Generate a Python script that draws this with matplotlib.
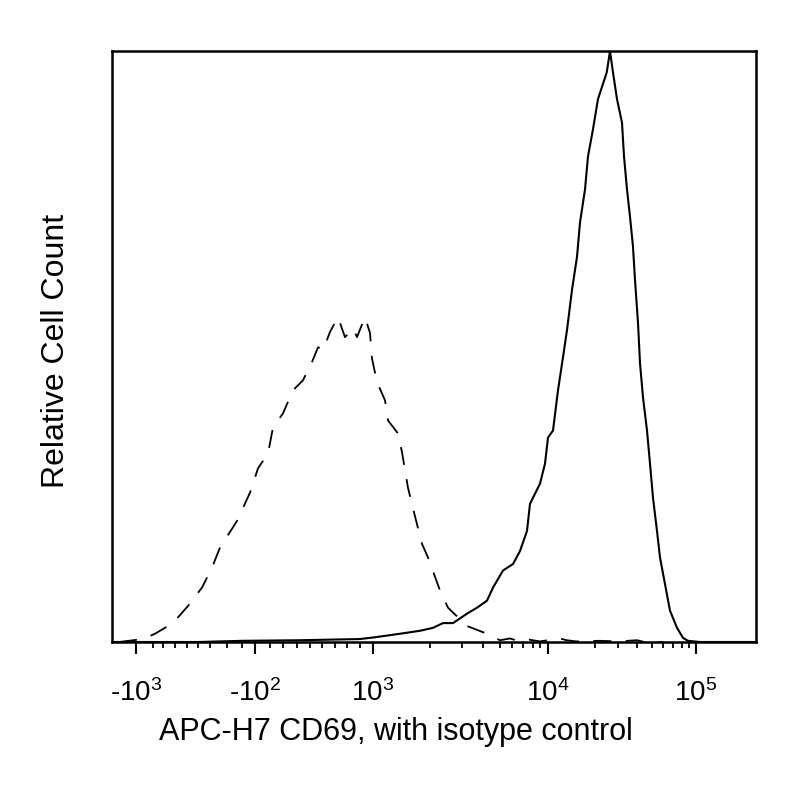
import numpy as np
import matplotlib
matplotlib.use("Agg")
import matplotlib.pyplot as plt

plt.rcParams['font.family'] = ['Liberation Sans', 'DejaVu Sans']
plt.rcParams['mathtext.fontset'] = 'custom'
plt.rcParams['mathtext.rm'] = 'Liberation Sans'

# isotype control (dashed) and CD69 stain (solid), relative count in % of max
iso_x = [-1100, -959, -880, -717, -591, -467, -388, -341, -233, -138, -40, 160, 223,
         300, 371, 446, 517, 567, 608, 662, 725, 783, 846, 877, 938, 977, 992, 1070,
         1211, 1263, 1439, 1509, 1614, 1702, 1860, 1965, 2313, 2563, 3238, 4235, 5000,
         5833, 6500, 7600, 9000, 12500, 14000, 16000, 22174, 30000, 40000, 45000, 60000]
iso_y = [0, 0.5, 1.4, 3.2, 6.1, 9.2, 12.6, 16.0, 20.5, 25.3, 29.4, 31.9, 36.3,
         38.7, 42.6, 44.3, 47.4, 49.9, 49.4, 52.5, 55.0, 51.6, 53.1, 51.6, 55.0, 52.3, 48.0, 44.0,
         40.9, 37.5, 35.3, 32.1, 26.1, 22.6, 16.6, 14.3, 8.7, 5.8, 2.7, 1.4, 0.3,
         0.6, 0.2, 0.4, 0.1, 0.6, 0.3, 0.1, 0.2, 0.1, 0.3, 0, 0]

cd69_x = [-1200, -500, -200, 423, 900, 1035, 1474, 1825, 2094, 2406, 2719, 3238, 3714,
          4235, 4588, 5250, 6091, 6727, 7400, 7700, 8286, 9000, 9625, 10000, 11064, 12128,
          13191, 14043, 15106, 16170, 16809, 17872, 18511, 19574, 21304, 25087, 26522,
          27826, 29565, 32105, 33158, 34737, 36316, 37895, 38947, 40667, 42000, 44000,
          46667, 48667, 50909, 54545, 57273, 62000, 67000, 74444, 81429, 88571, 107692, 250000]
cd69_y = [0, 0, 0.2, 0.3, 0.5, 0.8, 1.4, 1.9, 2.4, 3.2, 3.2, 4.8, 5.8,
          7.0, 9.2, 12.1, 13.2, 15.4, 18.8, 23.4, 25.1, 26.8, 30.2, 34.6, 35.8, 42.6,
          48.2, 52.8, 59.6, 65.2, 71.0, 76.6, 82.2, 86.8, 91.9, 96.4, 100,
          96.4, 91.9, 87.9, 82.2, 76.6, 72.0, 66.9, 61.3, 54.0, 47.2, 41.4,
          35.8, 30.2, 24.4, 18.8, 14.3, 9.8, 5.3, 2.4, 0.7, 0.2, 0, 0]

major_ticks = [-1000, -100, 1000, 10000, 100000]
major_labels = ['-$\\mathregular{10^{3}}$', '-$\\mathregular{10^{2}}$',
                '$\\mathregular{10^{3}}$', '$\\mathregular{10^{4}}$', '$\\mathregular{10^{5}}$']
minor_ticks = ([-900, -800, -700, -600, -500, -400, -300, -200]
               + [200, 300, 400, 500, 600, 700, 800, 900]
               + [2000, 3000, 4000, 5000, 6000, 7000, 8000, 9000]
               + [20000, 30000, 40000, 50000, 60000, 70000, 80000, 90000])

# biexponential-like display scale, piecewise through the tick positions
SCALE_V = np.array([-10000, -1000, -900, -800, -700, -600, -500, -400, -300, -200, -100,
                    200, 300, 400, 500, 600, 700, 800, 900, 1000,
                    2000, 3000, 4000, 5000, 6000, 7000, 8000, 9000, 10000,
                    20000, 30000, 40000, 50000, 60000, 70000, 80000, 90000, 100000,
                    150000, 200000, 262144, 1e7], dtype=float)
SCALE_P = np.array([-1394, 136, 153, 163, 175, 187, 198, 210, 227, 242, 255,
                    270, 283, 297, 310, 322, 335, 347, 360, 373,
                    430, 462, 483, 500, 512, 523, 533, 540, 548,
                    595, 618, 637, 652, 663, 673, 682, 689, 696,
                    722, 741, 758, 1500], dtype=float)


def forward(x):
    return np.interp(np.asarray(x, dtype=float), SCALE_V, SCALE_P)


def inverse(p):
    return np.interp(np.asarray(p, dtype=float), SCALE_P, SCALE_V)


fig = plt.figure(figsize=(8, 8), dpi=100)
ax = fig.add_axes([0.14, 0.1975, 0.805, 0.7385])
ax.set_xscale('function', functions=(forward, inverse))

ax.plot(iso_x, iso_y, color='black', lw=1.3, linestyle=(0, (10, 8)))
ax.plot(cd69_x, cd69_y, color='black', lw=1.5)

ax.set_xlim(float(inverse(112)), float(inverse(756)))
ax.set_ylim(0, 100)

ax.set_xticks(major_ticks)
ax.set_xticklabels(major_labels)
ax.set_xticks(minor_ticks, minor=True)
ax.set_yticks([])
ax.tick_params(axis='x', which='major', length=8.5, width=1.5, direction='out',
               pad=18, labelsize=20)
ax.tick_params(axis='x', which='minor', length=4.3, width=1.3, direction='out')

for s in ax.spines.values():
    s.set_linewidth(1.8)

ax.set_xlabel('APC-H7 CD69, with isotype control', fontsize=22)
ax.xaxis.set_label_coords(0.441, -0.1275)
ax.set_ylabel('Relative Cell Count', fontsize=23)
ax.yaxis.set_label_coords(-0.064, 0.492)

fig.savefig('out.png', dpi=100)
